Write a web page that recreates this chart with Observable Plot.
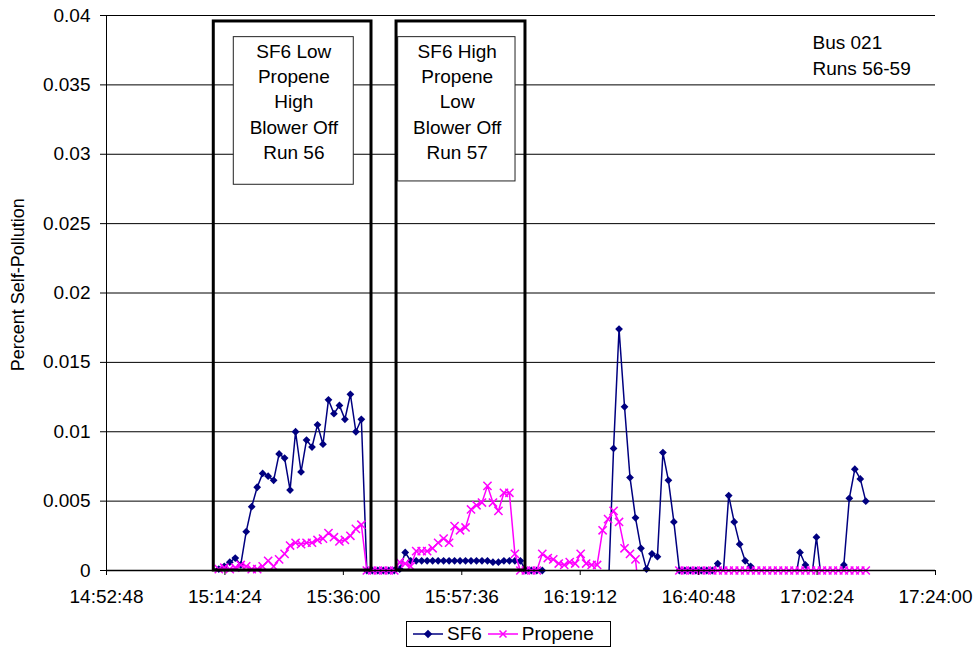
<!DOCTYPE html>
<html>
<head>
<meta charset="utf-8">
<script src="https://cdn.jsdelivr.net/npm/d3@7"></script>
<script src="https://cdn.jsdelivr.net/npm/@observablehq/plot@0.6"></script>
<style>
  html, body { margin: 0; padding: 0; background: #fff; }
  #wrap { position: relative; width: 980px; height: 650px; font-family: "Liberation Sans", Arial, sans-serif; }
  #legend { position: absolute; left: 406px; top: 621px; width: 205px; height: 26px; border: 1px solid #000; box-sizing: border-box;
            display: flex; align-items: center; font-size: 19px; color: #000; background: #fff; }
  #legend .item { display: flex; align-items: center; margin-left: 6px; }
  #legend svg { margin-right: 4px; }
</style>
</head>
<body>
<div id="wrap">
  <div id="chart"></div>
  <div id="legend"></div>
</div>
<script>
// ---- data ----
const seriesNames = ["SF6", "Propene"];
const seriesColors = ["#000080", "#FF00FF"];

const xTickLabels = ["14:52:48","15:14:24","15:36:00","15:57:36","16:19:12","16:40:48","17:02:24","17:24:00"];
const yTickLabels = ["0","0.005","0.01","0.015","0.02","0.025","0.03","0.035","0.04"];

const times = [
  "15:13:17","15:14:17","15:15:17","15:16:17","15:17:17","15:18:17","15:19:17","15:20:17","15:21:17","15:22:17",
  "15:23:17","15:24:17","15:25:17","15:26:17","15:27:17","15:28:17","15:29:17","15:30:17","15:31:17","15:32:17",
  "15:33:17","15:34:17","15:35:17","15:36:17","15:37:17","15:38:17","15:39:17","15:40:17","15:41:17","15:42:17",
  "15:43:17","15:44:17","15:45:17","15:46:17","15:47:17","15:48:17","15:49:17","15:50:17","15:51:17","15:52:17",
  "15:53:17","15:54:17","15:55:17","15:56:17","15:57:17","15:58:17","15:59:17","16:00:17","16:01:17","16:02:17",
  "16:03:17","16:04:17","16:05:17","16:06:17","16:07:17","16:08:17","16:09:17","16:10:17","16:11:17","16:12:17",
  "16:13:17","16:14:17","16:15:17","16:16:17","16:17:17","16:18:17","16:19:17","16:20:17","16:21:17","16:22:17",
  "16:23:17","16:24:17","16:25:17","16:26:17","16:27:17","16:28:17","16:29:17","16:30:17","16:31:17","16:32:17",
  "16:33:17","16:34:17","16:35:17","16:36:17","16:37:17","16:38:17","16:39:17","16:40:17","16:41:17","16:42:17",
  "16:43:17","16:44:17","16:45:17","16:46:17","16:47:17","16:48:17","16:49:17","16:50:17","16:51:17","16:52:17",
  "16:53:17","16:54:17","16:55:17","16:56:17","16:57:17","16:58:17","16:59:17","17:00:17","17:01:17","17:02:17",
  "17:03:17","17:04:17","17:05:17","17:06:17","17:07:17","17:08:17","17:09:17","17:10:17","17:11:17"
];

const sf6 = [
  0.0001, 0.0003, 0.0006, 0.0009, 0.0004, 0.0028, 0.0046, 0.0060, 0.0070, 0.0068,
  0.0065, 0.0084, 0.0081, 0.0058, 0.0100, 0.0071, 0.0094, 0.0089, 0.0105, 0.0091,
  0.0123, 0.0113, 0.0119, 0.0109, 0.0127, 0.0100, 0.0109, 0, 0, 0,
  0, 0, 0, 0.0001, 0.0013, 0.0007, 0.0007, 0.0007, 0.0007, 0.0007,
  0.0007, 0.0007, 0.0007, 0.0007, 0.0007, 0.0007, 0.0007, 0.0007, 0.0007, 0.0007,
  0.0006, 0.0006, 0.0007, 0.0007, 0.0007, 0.0007, 0, 0, 0, 0,
  -0.002, -0.002, -0.002, -0.002, -0.002, -0.002, -0.002, -0.002, -0.002, -0.002,
  -0.002, -0.002, 0.0088, 0.0174, 0.0118, 0.0067, 0.0038, 0.0016, 0.0001, 0.0012,
  0.0010, 0.0085, 0.0065, 0.0035, 0, 0, 0, 0, 0, 0,
  0, 0.0005, -0.0003, 0.0054, 0.0035, 0.0019, 0.0007, 0.0003, -0.0002, -0.001,
  -0.001, -0.001, -0.001, -0.001, -0.001, -0.001, 0.0013, 0.0004, -0.001, 0.0024,
  -0.001, -0.001, -0.001, -0.001, 0.0004, 0.0052, 0.0073, 0.0066, 0.0050
];

const propene = [
  0.0001, 0.0002, 0.0001, 0.0002, 0.0004, 0.0003, 0.0001, 0.0001, 0.0003, 0.0007,
  0.0003, 0.0008, 0.0012, 0.0018, 0.0020, 0.0019, 0.0020, 0.0020, 0.0022, 0.0023,
  0.0027, 0.0024, 0.0021, 0.0022, 0.0025, 0.0030, 0.0033, 0, 0, 0,
  0, 0, 0, 0.0006, 0.0005, 0.0003, 0.0014, 0.0014, 0.0014, 0.0016,
  0.0020, 0.0023, 0.0020, 0.0032, 0.0029, 0.0031, 0.0044, 0.0047, 0.0049, 0.0061,
  0.0049, 0.0043, 0.0056, 0.0056, 0.0012, 0, 0, 0, 0, 0.0012,
  0.0009, 0.0008, 0.0005, 0.0004, 0.0006, 0.0005, 0.0012, 0.0005, 0.0004, 0.0004,
  0.0029, 0.0037, 0.0043, 0.0035, 0.0016, 0.0012, 0.0008, -0.003, -0.003, -0.003,
  -0.003, -0.003, -0.003, -0.003, 0, 0, 0, 0, 0, 0,
  0, 0, 0, 0, 0, 0, 0, 0, 0, 0,
  0, 0, 0, 0, 0, 0, 0, 0, 0, 0,
  0, 0, 0, 0, 0, 0, 0, 0, 0
];

// run annotation boxes (time / value coordinates)
const runBoxStart = ["15:12:22", "15:45:42"];
const runBoxEnd   = ["15:41:08", "16:09:13"];
const runBoxTop   = [0.03957, 0.03957];
const labelBoxStart = ["15:16:01", "15:46:00"];
const labelBoxEnd   = ["15:37:54", "16:07:24"];
const labelBoxTop   = [0.03844, 0.03844];
const labelBoxBottom= [0.02780, 0.02804];
const labelCenter   = ["15:26:58", "15:56:46"];
const labelTop      = [0.0382, 0.0382];
const labelTexts = [
  "SF6 Low\nPropene\nHigh\nBlower Off\nRun 56",
  "SF6 High\nPropene\nLow\nBlower Off\nRun 57"
];
const noteText = "Bus 021\nRuns 56-59";
const noteX = "17:01:34";
const noteY = 0.0389;
const yTitle = "Percent Self-Pollution";
const yTitleAt = 0.0206;

// ---- build ----
const toSec = s => { const [h, m, x] = s.split(":").map(Number); return h * 3600 + m * 60 + x; };
const fmt = sec => { const h = Math.floor(sec / 3600), m = Math.floor((sec % 3600) / 60), s = Math.round(sec % 60);
  return `${h}:${String(m).padStart(2, "0")}:${String(s).padStart(2, "0")}`; };

const xTicks = xTickLabels.map(toSec);
const yTicks = yTickLabels.map(Number);
const sf6Rows = times.map((t, i) => ({t: toSec(t), v: sf6[i]}));
const propRows = times.map((t, i) => ({t: toSec(t), v: propene[i]}));
const runBoxes = runBoxStart.map((s, i) => ({x1: toSec(s), x2: toSec(runBoxEnd[i]), y1: 0, y2: runBoxTop[i]}));
const labelBoxes = labelBoxStart.map((s, i) => ({x1: toSec(s), x2: toSec(labelBoxEnd[i]), y1: labelBoxBottom[i], y2: labelBoxTop[i]}));
const labels = labelTexts.map((txt, i) => ({x: toSec(labelCenter[i]), y: labelTop[i], text: txt}));

const [navy, magenta] = seriesColors;
const font = "'Liberation Sans', Arial, sans-serif";

const chart = Plot.plot({
  width: 980,
  height: 615,
  marginLeft: 106,
  marginRight: 45,
  marginTop: 15,
  marginBottom: 45,
  style: {fontFamily: font, fontSize: "19px", color: "#000", background: "#fff", overflow: "visible"},
  x: {domain: [xTicks[0], xTicks[xTicks.length - 1]], label: null},
  y: {domain: [0, 0.04], label: null},
  marks: [
    Plot.ruleY(yTicks.filter(v => v > 0), {stroke: "#000", strokeWidth: 1}),
    Plot.lineY(sf6Rows, {x: "t", y: "v", stroke: navy, strokeWidth: 1.5, clip: true}),
    Plot.dot(sf6Rows.filter(d => d.v >= 0), {x: "t", y: "v", symbol: "square", r: 3.1, rotate: 45, fill: navy, stroke: "none"}),
    Plot.lineY(propRows, {x: "t", y: "v", stroke: magenta, strokeWidth: 1.5, clip: true}),
    Plot.dot(propRows.filter(d => d.v >= 0), {x: "t", y: "v", symbol: "times", r: 3.8, stroke: magenta, strokeWidth: 1.5}),
    Plot.rect(labelBoxes, {x1: "x1", x2: "x2", y1: "y1", y2: "y2", fill: "#fff", stroke: "#222", strokeWidth: 1}),
    Plot.rect(runBoxes, {x1: "x1", x2: "x2", y1: "y1", y2: "y2", fill: "none", stroke: "#000", strokeWidth: 3}),
    Plot.text(labels, {x: "x", y: "y", text: "text", lineAnchor: "top", lineHeight: 1.32, fontSize: 19, fill: "#000"}),
    Plot.text([noteText], {x: toSec(noteX), y: noteY, textAnchor: "start", lineAnchor: "top", lineHeight: 1.37, fontSize: 19, fill: "#000"}),
    Plot.ruleX([xTicks[0]], {stroke: "#000", strokeWidth: 1}),
    Plot.ruleY([0], {stroke: "#000", strokeWidth: 1.5}),
    Plot.axisY({ticks: yTicks, tickFormat: (d, i) => yTickLabels[i], tickSize: 6, tickPadding: 10, fontSize: 19, label: null}),
    Plot.axisX({ticks: xTicks, tickFormat: d => fmt(d), tickSize: 5, tickPadding: 14, fontSize: 19, label: null}),
    Plot.text([yTitle], {x: xTicks[0], y: yTitleAt, dx: -88, rotate: -90, textAnchor: "middle", fontSize: 18, fill: "#000"})
  ]
});
document.getElementById("chart").appendChild(chart);

// legend
const legend = document.getElementById("legend");
seriesNames.forEach((name, i) => {
  const item = document.createElement("div");
  item.className = "item";
  const sym = i === 0
    ? `<rect x="12" y="3" width="6" height="6" transform="rotate(45 15 6)" fill="${seriesColors[i]}"/>`
    : `<path d="M11.5,2.5L18.5,9.5M18.5,2.5L11.5,9.5" stroke="${seriesColors[i]}" stroke-width="1.5"/>`;
  item.innerHTML = `<svg width="30" height="12"><line x1="0" y1="6" x2="30" y2="6" stroke="${seriesColors[i]}" stroke-width="1.5"/>${sym}</svg><span>${name}</span>`;
  legend.appendChild(item);
});
</script>
</body>
</html>
